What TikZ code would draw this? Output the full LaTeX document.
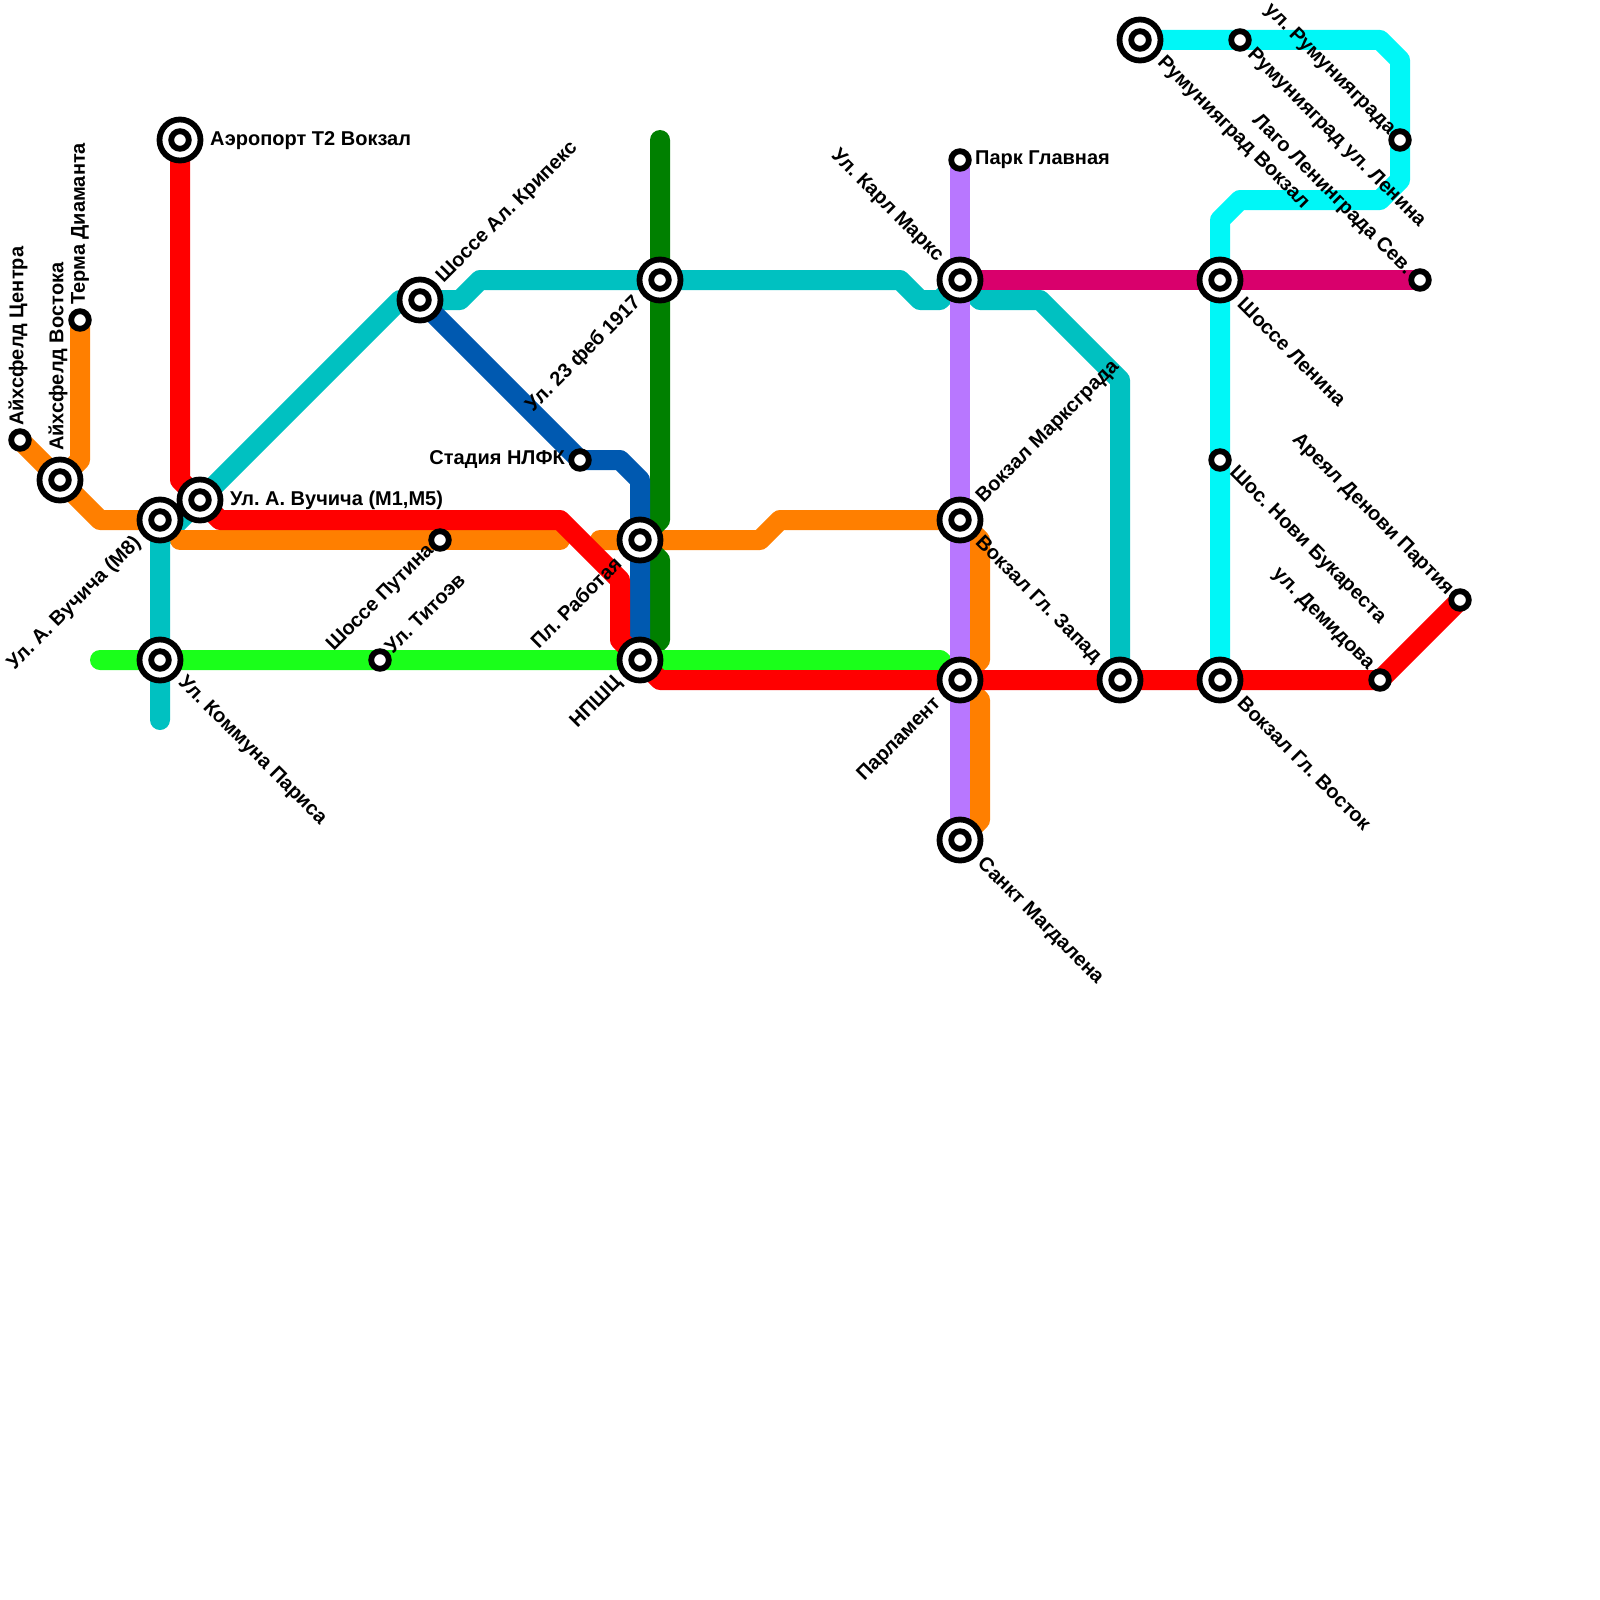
\documentclass[tikz,border=0pt]{standalone}
\usepackage{fontspec}
\setmainfont{Liberation Sans}
\usetikzlibrary{backgrounds}
\definecolor{cRed}{HTML}{FF0000}
\definecolor{cOrange}{HTML}{FF7F00}
\definecolor{cTeal}{HTML}{00C1C1}
\definecolor{cCyan}{HTML}{00F7F7}
\definecolor{cBlue}{HTML}{0059B0}
\definecolor{cDark}{HTML}{008000}
\definecolor{cLime}{HTML}{1AFF1A}
\definecolor{cPurple}{HTML}{B877FF}
\definecolor{cPink}{HTML}{D9006C}
\tikzset{
  metro/.style={line width=20pt,line cap=round,line join=round},
  bigst/.style={circle,draw=black,fill=white,line width=5.8pt,minimum size=41pt,inner sep=0pt,outer sep=0pt,
    path picture={\draw[black,line width=5.8pt] (path picture bounding box.center) circle (8.8pt);}},
  smallst/.style={circle,draw=black,fill=white,line width=5.8pt,minimum size=17.6pt,inner sep=0pt,outer sep=0pt},
  lbl/.style={font=\frenchspacing\bfseries\fontsize{20}{20}\selectfont,inner sep=0pt,text=black},
  ne/.style={lbl,rotate=45,anchor=west},
  sw/.style={lbl,rotate=45,anchor=east},
  se/.style={lbl,rotate=-45,anchor=west},
  nw/.style={lbl,rotate=-45,anchor=east},
  up/.style={lbl,rotate=90,anchor=west},
  ea/.style={lbl,anchor=west},
  we/.style={lbl,anchor=east},
}
\begin{document}
\begin{tikzpicture}[x=1pt,y=-1pt]
\useasboundingbox (0,0) rectangle (1600,1600);
% bend points
\foreach \n/\x/\y in {
 r1/180/480,r2/220/520,r3/560/520,r4/620/580,r5/620/640,r6/660/680,
 o1/100/520,o2/180/540,o3/560/540,o4/600/540,o5/760/540,o6/780/520,
 o7/980/540,o8/980/660,o9/980/700,o10/980/820,o11/80/460,
 t1/160/720,t2/160/540,t3/400/300,t4/460/300,t5/480/280,t6/900/280,t7/920/300,t8/940/300,
 t9/980/300,t10/1040/300,t11/1120/380,
 c1/1220/220,c2/1240/200,c3/1380/200,c4/1400/180,c5/1400/60,c6/1380/40,
 b1/620/460,b2/640/480,
 d1/660/140,d2/660/520,d3/660/560,d4/660/640,
 g1/100/660,g2/940/660}
 {\coordinate (\n) at (\x,\y);}
% stations
\node[bigst] (aero) at (180,140) {};
\node[smallst] (aif) at (20,440) {};
\node[bigst] (aiv) at (60,480) {};
\node[smallst] (term) at (80,320) {};
\node[bigst] (vm8) at (160,520) {};
\node[bigst] (vm1) at (200,500) {};
\node[bigst] (komm) at (160,660) {};
\node[bigst] (krip) at (420,300) {};
\node[smallst] (tito) at (380,660) {};
\node[smallst] (puti) at (440,540) {};
\node[smallst] (stad) at (580,460) {};
\node[bigst] (rabo) at (640,540) {};
\node[bigst] (npsh) at (640,660) {};
\node[bigst] (feb) at (660,280) {};
\node[smallst] (park) at (960,160) {};
\node[bigst] (karl) at (960,280) {};
\node[bigst] (vmar) at (960,520) {};
\node[bigst] (parl) at (960,680) {};
\node[bigst] (sank) at (960,840) {};
\node[bigst] (zap) at (1120,680) {};
\node[bigst] (len) at (1220,280) {};
\node[smallst] (buka) at (1220,460) {};
\node[bigst] (vost) at (1220,680) {};
\node[smallst] (demi) at (1380,680) {};
\node[smallst] (part) at (1460,600) {};
\node[smallst] (sev) at (1420,280) {};
\node[bigst] (rumv) at (1140,40) {};
\node[smallst] (ruml) at (1240,40) {};
\node[smallst] (ulru) at (1400,140) {};
% lines
\begin{scope}[on background layer]
\draw[metro,cTeal] (t1) -- (t2) -- (vm1.center) -- (t3) -- (krip.center) -- (t4) -- (t5) -- (feb.center) -- (t6) -- (t7) -- (t8) -- (karl.center) -- (t9) -- (t10) -- (t11) -- (zap.center);
\draw[metro,cOrange] (aif.center) -- (aiv.center) -- (o1) -- (vm8.center);
\draw[metro,cOrange] (o2) -- (o3);
\draw[metro,cOrange] (term.center) -- (o11) -- (aiv.center);
\draw[metro,cOrange] (o4) -- (o5) -- (o6) -- (vmar.center) -- (o7) -- (o8) -- (parl.center) -- (o9) -- (o10) -- (sank.center);
\draw[metro,cDark] (d1) -- (d2) -- (rabo.center) -- (d3) -- (d4) -- (npsh.center);
\draw[metro,cBlue] (krip.center) -- (stad.center) -- (b1) -- (b2) -- (npsh.center);
\draw[metro,cLime] (g1) -- (g2) -- (parl.center);
\draw[metro,cPurple] (park.center) -- (sank.center);
\draw[metro,cPink] (karl.center) -- (sev.center);
\draw[metro,cCyan] (vost.center) -- (c1) -- (c2) -- (c3) -- (c4) -- (c5) -- (c6) -- (rumv.center);
\draw[metro,cRed] (aero.center) -- (r1) -- (vm1.center) -- (r2) -- (r3) -- (r4) -- (r5) -- (npsh.center) -- (r6) -- (demi.center) -- (part.center);
\end{scope}
% labels
\node[ea] (l1) at (210,141) {Аэропорт Т2 Вокзал};
\node[ea] (l2) at (230,500) {Ул. А. Вучича (М1,М5)};
\node[up] (l3) at (80,305) {Терма Диаманта};
\node[up] (l4) at (18,426) {Айхсфелд Центра};
\node[up] (l5) at (58,451) {Айхсфелд Востока};
\node[ne] (l6) at (440,280) {Шоссе Ал. Крипекс};
\node[sw] (l7) at (138,540) {Ул. А. Вучича (М8)};
\node[se] (l8) at (181,680) {Ул. Коммуна Париса};
\node[ne] (l9) at (388,650) {Ул. Титоэв};
\node[sw] (l10) at (431,548) {Шоссе Путина};
\node[we] (l11) at (565,460) {Стадия НЛФК};
\node[sw] (l12) at (618,560) {Пл. Работая};
\node[sw] (l13) at (619,680) {НПШЦ};
\node[sw] (l14) at (638,300) {Ул. 23 феб 1917};
\node[ea] (l15) at (975,160) {Парк Главная};
\node[nw] (l16) at (940,259) {Ул. Карл Маркс};
\node[ne] (l17) at (980,500) {Вокзал Марксграда};
\node[se] (l18) at (978,540) {Вокзал Гл. Запад};
\node[se] (l19) at (1241,301) {Шоссе Ленина};
\node[se] (l20) at (1232,470) {Шос. Нови Букареста};
\node[nw] (l21) at (1371,667) {ул. Демидова};
\node[nw] (l22) at (1450,592) {Ареял Денови Партия};
\node[se] (l23) at (1241,700) {Вокзал Гл. Восток};
\node[sw] (l24) at (938,701) {Парламент};
\node[se] (l25) at (980,861) {Санкт Магдалена};
\node[se] (l26) at (1160,60) {Румунияград Вокзал};
\node[se] (l27) at (1250,52) {Румунияград ул. Ленина};
\node[nw] (l28) at (1392,132) {ул. Румунияграда};
\node[nw] (l29) at (1409,272) {Лаго Ленинграда Сев.};
\end{tikzpicture}
\end{document}
